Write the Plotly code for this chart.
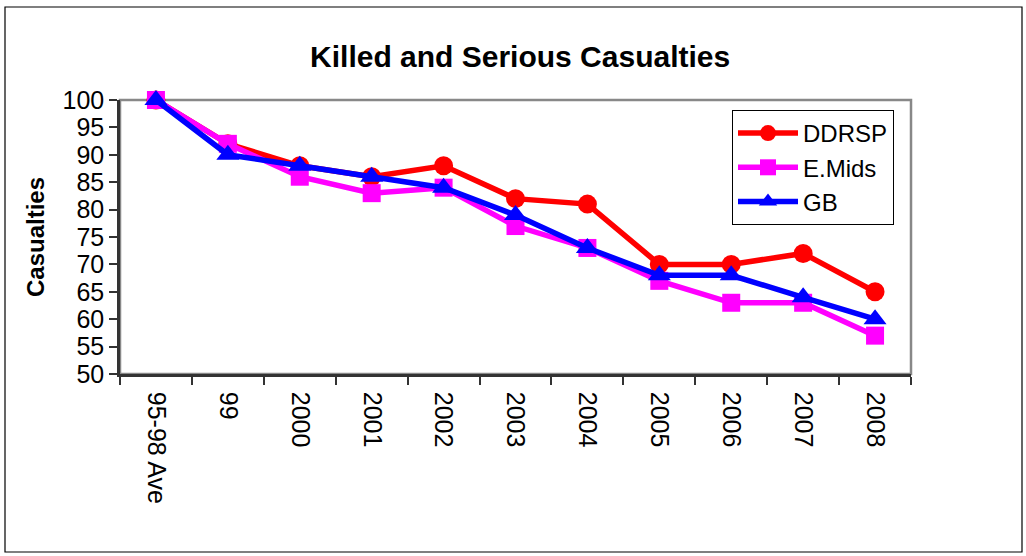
import plotly.graph_objects as go

# Casualty index by period (95-98 average = 100)
categories = ["95-98 Ave", "99", "2000", "2001", "2002", "2003", "2004", "2005", "2006", "2007", "2008"]
ddrsp = [100, 92, 88, 86, 88, 82, 81, 70, 70, 72, 65]
emids = [100, 92, 86, 83, 84, 77, 73, 67, 63, 63, 57]
gb = [100, 90, 88, 86, 84, 79, 73, 68, 68, 64, 60]
y_ticks = list(range(50, 101, 5))

FONT = "Liberation Sans, Arial, sans-serif"

fig = go.Figure()
series = [
    ("DDRSP", ddrsp, "#FF0000", "circle", 19),
    ("E.Mids", emids, "#FF00FF", "square", 18),
    ("GB", gb, "#0000FF", "triangle-up", 20),
]
for name, vals, color, symbol, size in series:
    fig.add_trace(go.Scatter(
        x=categories, y=vals, name=name, mode="lines+markers",
        line=dict(color=color, width=5.5),
        marker=dict(symbol=symbol, size=size, color=color, line=dict(width=0)),
        cliponaxis=False,
    ))

L, R, T, B = 120, 115, 100, 182
W, H = 1026, 556
pw, ph = W - L - R, H - T - B

def px_x(p):
    return (p - L) / pw

def px_y(p):
    return (H - B - p) / ph

fig.update_layout(
    width=W, height=H,
    margin=dict(l=L, r=R, t=T, b=B),
    paper_bgcolor="white", plot_bgcolor="white",
    font=dict(family=FONT, color="black", size=20),
    title=dict(text="<b>Killed and Serious Casualties</b>", x=px_x(521), xanchor="center",
               y=1 - 56 / H, yanchor="middle", font=dict(size=30, family=FONT)),
    showlegend=True,
    legend=dict(x=px_x(732), y=px_y(110), xanchor="left", yanchor="top",
                bordercolor="black", borderwidth=1, bgcolor="white",
                font=dict(size=24, family=FONT), itemwidth=60),
    xaxis=dict(type="category", tickson="boundaries", ticks="outside", ticklen=8,
               tickcolor="#333", tickwidth=1.5, tickangle=90, showgrid=False,
               showline=True, linecolor="#333", linewidth=2.5, ticklabelstandoff=10,
               tickfont=dict(size=25, family=FONT), range=[-0.5, 10.5]),
    yaxis=dict(range=[50, 100], tickvals=y_ticks, ticks="outside", ticklen=8,
               tickcolor="#333", tickwidth=1.5, showgrid=False, zeroline=False,
               showline=True, linecolor="#333", linewidth=2.5,
               tickfont=dict(size=25, family=FONT),
               title=dict(text="<b>Casualties</b>", font=dict(size=24, family=FONT), standoff=12)),
    shapes=[
        # plot area frame (top and right edges in grey)
        dict(type="rect", xref="paper", yref="paper", x0=0, x1=1, y0=0, y1=1,
             line=dict(color="#888", width=2.5), layer="below"),
        # outer chart border
        dict(type="rect", xref="paper", yref="paper",
             x0=px_x(5), x1=px_x(1022), y0=px_y(552), y1=px_y(7),
             line=dict(color="black", width=1.2), layer="below"),
    ],
)

fig.write_html("out.html")
